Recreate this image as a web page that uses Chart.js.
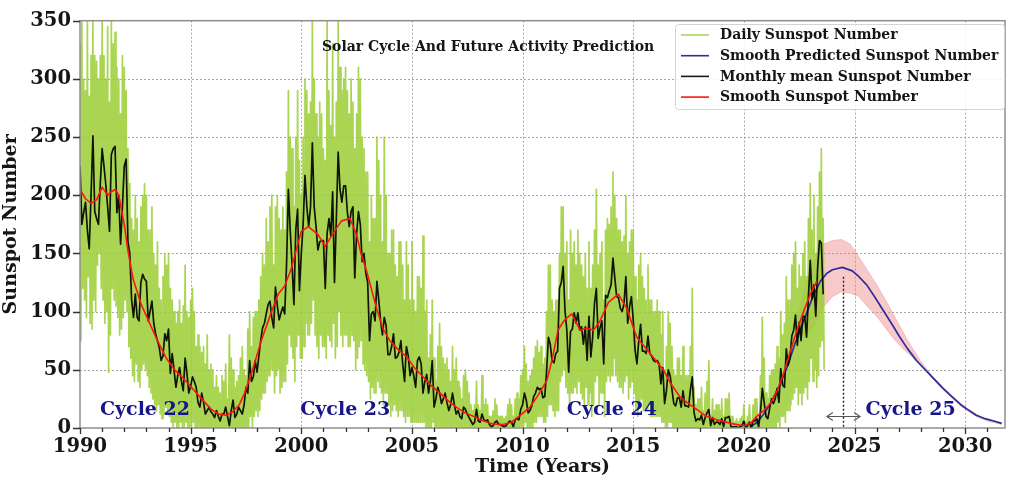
<!DOCTYPE html>
<html>
<head>
<meta charset="utf-8">
<title>Solar Cycle And Future Activity Prediction</title>
<script src="https://cdn.jsdelivr.net/npm/chart.js@4.4.1/dist/chart.umd.min.js"></script>
<style>
  html, body { margin: 0; padding: 0; background: #ffffff; }
  #wrap { width: 1012px; height: 481px; }
</style>
</head>
<body>
<div id="wrap"><canvas id="sunspots" width="1012" height="481"></canvas></div>
<script>
// ---- data -------------------------------------------------------------
const firstYear = 1990;

// Monthly mean sunspot number, one row per year (Jan..Dec)
const monthlyMean = [
  [225, 175, 185, 194, 170, 154, 200, 251, 186, 180, 175, 210], // 1990
  [240, 225, 209, 190, 169, 235, 240, 242, 185, 200, 158, 190], // 1991
  [225, 231, 160, 150, 110, 95, 115, 95, 92, 125, 132, 128],    // 1992
  [126, 92, 100, 109, 90, 81, 75, 69, 58, 62, 81, 75],          // 1993
  [85, 47, 64, 50, 35, 45, 52, 40, 32, 60, 47, 30],             // 1994
  [36, 44, 40, 35, 22, 18, 30, 22, 12, 15, 18, 14],             // 1995
  [12, 9, 15, 10, 6, 12, 12, 18, 10, 2, 15, 24],                // 1996
  [9, 12, 18, 15, 12, 20, 35, 30, 58, 40, 44, 58],              // 1997
  [48, 62, 75, 86, 90, 98, 106, 109, 95, 86, 121, 105],         // 1998
  [93, 99, 104, 98, 140, 205, 170, 140, 106, 170, 188, 118],    // 1999
  [150, 175, 217, 190, 173, 190, 245, 190, 173, 153, 160, 161], // 2000
  [161, 120, 167, 180, 165, 203, 125, 180, 237, 205, 194, 208], // 2001
  [208, 185, 173, 186, 190, 129, 167, 186, 175, 143, 150, 133], // 2002
  [125, 75, 98, 100, 92, 126, 110, 92, 80, 95, 88, 63],         // 2003
  [63, 70, 81, 60, 61, 65, 75, 55, 40, 70, 62, 45],             // 2004
  [52, 45, 35, 58, 61, 55, 30, 40, 46, 30, 40, 58],             // 2005
  [18, 25, 35, 30, 21, 25, 30, 22, 15, 20, 30, 20],             // 2006
  [12, 15, 10, 8, 18, 16, 12, 9, 6, 3, 5, 16],                  // 2007
  [6, 5, 12, 7, 6, 7, 3, 1, 2, 5, 6, 3],                        // 2008
  [3, 2, 1, 2, 4, 6, 5, 1, 7, 8, 7, 16],                        // 2009
  [20, 30, 24, 13, 15, 19, 27, 30, 35, 33, 34, 26],             // 2010
  [27, 48, 78, 72, 58, 56, 64, 66, 120, 125, 139, 101],         // 2011
  [84, 48, 83, 85, 99, 90, 99, 84, 87, 72, 87, 58],             // 2012
  [96, 61, 78, 107, 120, 77, 86, 92, 55, 114, 112, 118],        // 2013
  [123, 146, 129, 113, 112, 103, 100, 107, 130, 90, 104, 113],  // 2014
  [93, 67, 55, 75, 89, 66, 66, 64, 79, 64, 62, 58],             // 2015
  [57, 58, 55, 38, 52, 21, 32, 50, 45, 33, 21, 19],             // 2016
  [26, 26, 18, 32, 19, 19, 18, 33, 44, 13, 6, 8],               // 2017
  [7, 11, 3, 9, 13, 16, 2, 9, 3, 5, 5, 3],                      // 2018
  [8, 1, 9, 9, 10, 1, 1, 1, 1, 0, 1, 2],                        // 2019
  [6, 0, 2, 5, 0, 6, 6, 8, 1, 14, 34, 22],                      // 2020
  [10, 8, 17, 25, 21, 25, 34, 22, 51, 37, 35, 68],              // 2021
  [54, 60, 79, 84, 97, 71, 91, 75, 96, 96, 78, 113],            // 2022
  [144, 111, 123, 96, 138, 161, 159, 115]                       // 2023
];

// Daily sunspot number: highest and lowest daily value in each month
const dailyPeak = [
  [330, 350, 300, 290, 350, 285, 320, 350, 320, 315, 300, 320],
  [350, 320, 300, 345, 280, 350, 330, 340, 310, 300, 270, 320],
  [310, 290, 240, 210, 180, 170, 200, 180, 160, 190, 200, 210],
  [200, 170, 170, 190, 150, 140, 160, 120, 110, 130, 150, 140],
  [150, 120, 110, 100, 90, 100, 110, 90, 105, 140, 100, 95],
  [110, 120, 100, 70, 80, 70, 65, 70, 55, 80, 50, 55],
  [50, 35, 45, 35, 30, 45, 40, 55, 25, 80, 60, 50],
  [35, 40, 45, 60, 70, 50, 45, 85, 100, 70, 95, 100],
  [100, 110, 130, 150, 140, 180, 160, 190, 200, 140, 190, 200],
  [180, 170, 190, 170, 220, 290, 250, 240, 190, 250, 290, 230],
  [200, 250, 300, 290, 270, 280, 350, 300, 270, 250, 280, 270],
  [240, 230, 350, 290, 260, 330, 250, 280, 350, 310, 290, 300],
  [310, 290, 270, 300, 280, 240, 270, 310, 300, 250, 240, 220],
  [220, 160, 200, 180, 180, 250, 230, 200, 160, 250, 200, 150],
  [150, 170, 170, 140, 130, 160, 160, 140, 110, 160, 140, 110],
  [160, 110, 100, 130, 130, 120, 165, 100, 110, 60, 80, 110],
  [60, 40, 70, 90, 70, 60, 55, 60, 50, 40, 70, 50],
  [60, 40, 35, 25, 45, 50, 40, 30, 20, 15, 20, 40],
  [20, 15, 45, 20, 25, 20, 10, 10, 15, 25, 20, 10],
  [10, 10, 8, 10, 20, 25, 20, 10, 25, 30, 25, 45],
  [50, 70, 55, 40, 45, 50, 60, 70, 75, 65, 70, 55],
  [60, 100, 140, 140, 110, 100, 110, 110, 150, 190, 190, 150],
  [160, 110, 170, 150, 160, 140, 170, 150, 140, 130, 150, 120],
  [160, 120, 140, 170, 205, 140, 150, 160, 110, 170, 180, 175],
  [190, 220, 200, 180, 170, 170, 160, 165, 200, 150, 160, 170],
  [170, 130, 110, 140, 150, 130, 120, 110, 140, 110, 110, 100],
  [100, 110, 100, 80, 100, 50, 70, 100, 90, 70, 50, 45],
  [60, 60, 45, 70, 45, 45, 45, 70, 120, 35, 20, 25],
  [25, 35, 15, 30, 40, 58, 10, 25, 15, 20, 20, 15],
  [25, 10, 25, 25, 30, 10, 10, 5, 8, 5, 8, 10],
  [20, 5, 10, 20, 5, 20, 25, 25, 10, 45, 95, 60],
  [30, 25, 45, 50, 50, 55, 70, 60, 100, 80, 90, 130],
  [110, 110, 140, 150, 160, 120, 140, 130, 150, 160, 130, 180],
  [210, 170, 200, 150, 190, 220, 240, 180]
];
const dailyTrough = [
  [75, 120, 110, 95, 130, 90, 85, 110, 100, 140, 150, 120],
  [110, 90, 100, 48, 80, 120, 110, 105, 95, 80, 85, 95],
  [110, 100, 70, 60, 45, 40, 55, 40, 35, 50, 55, 50],
  [45, 35, 30, 25, 20, 15, 20, 12, 8, 12, 18, 15],
  [10, 5, 0, 5, 0, 0, 5, 0, 0, 5, 0, 0],
  [0, 5, 0, 0, 0, 0, 0, 0, 0, 0, 0, 0],
  [0, 0, 0, 0, 0, 0, 0, 0, 0, 0, 0, 0],
  [0, 0, 0, 0, 0, 0, 0, 0, 10, 0, 10, 15],
  [10, 15, 25, 30, 30, 40, 45, 50, 50, 30, 45, 50],
  [30, 35, 40, 40, 55, 80, 70, 60, 40, 70, 80, 60],
  [60, 70, 90, 80, 80, 90, 110, 80, 70, 60, 80, 70],
  [70, 60, 80, 75, 70, 90, 60, 70, 100, 80, 70, 80],
  [80, 70, 70, 80, 75, 50, 60, 70, 75, 55, 50, 45],
  [40, 25, 35, 30, 30, 40, 35, 30, 20, 30, 30, 20],
  [10, 15, 20, 15, 10, 15, 15, 10, 5, 10, 10, 5],
  [5, 5, 5, 5, 5, 5, 5, 0, 0, 0, 0, 5],
  [0, 0, 0, 0, 0, 0, 0, 0, 0, 0, 0, 0],
  [0, 0, 0, 0, 0, 0, 0, 0, 0, 0, 0, 0],
  [0, 0, 0, 0, 0, 0, 0, 0, 0, 0, 0, 0],
  [0, 0, 0, 0, 0, 0, 0, 0, 0, 0, 0, 0],
  [0, 5, 0, 0, 0, 0, 5, 5, 10, 10, 10, 5],
  [5, 10, 20, 20, 15, 10, 15, 15, 40, 45, 50, 35],
  [30, 15, 30, 30, 35, 30, 40, 30, 25, 20, 35, 20],
  [30, 10, 20, 40, 45, 20, 30, 30, 10, 40, 45, 40],
  [45, 60, 45, 40, 35, 35, 30, 40, 45, 25, 35, 40],
  [30, 15, 10, 20, 25, 15, 15, 15, 20, 10, 10, 10],
  [10, 10, 10, 5, 5, 0, 0, 5, 5, 0, 0, 0],
  [0, 0, 0, 0, 0, 0, 0, 0, 0, 0, 0, 0],
  [0, 0, 0, 0, 0, 0, 0, 0, 0, 0, 0, 0],
  [0, 0, 0, 0, 0, 0, 0, 0, 0, 0, 0, 0],
  [0, 0, 0, 0, 0, 0, 0, 0, 0, 0, 0, 0],
  [0, 0, 0, 0, 0, 0, 5, 0, 10, 10, 5, 15],
  [15, 20, 25, 30, 35, 20, 30, 20, 30, 35, 25, 40],
  [60, 40, 50, 35, 45, 70, 75, 50]
];

// 13-month smoothed sunspot number
const smoothYears = [
  1990.0, 1990.25, 1990.5, 1990.75, 1991.0, 1991.25, 1991.4, 1991.6, 1991.75,
  1992.0, 1992.17, 1992.4, 1992.77, 1993.1, 1993.5, 1993.9, 1994.28, 1994.6,
  1995.03, 1995.5, 1995.93, 1996.25, 1996.6, 1996.9, 1997.2, 1997.44, 1997.8,
  1998.19, 1998.6, 1998.95, 1999.25, 1999.55, 1999.8, 2000.0, 2000.32, 2000.77,
  2001.07, 2001.3, 2001.6, 2001.82, 2002.2, 2002.5, 2002.7, 2002.95, 2003.4, 2003.7,
  2004.0, 2004.4, 2004.77, 2005.1, 2005.5, 2005.9, 2006.27, 2006.6,
  2007.0, 2007.4, 2007.78, 2008.1, 2008.53, 2008.9, 2009.13, 2009.5, 2009.9,
  2010.34, 2010.7, 2011.1, 2011.35, 2011.6, 2011.9, 2012.22, 2012.6, 2012.9,
  2013.2, 2013.5, 2013.88, 2014.33, 2014.7, 2015.16, 2015.76, 2016.36, 2016.7,
  2017.1, 2017.5, 2017.87, 2018.3, 2018.78, 2019.4, 2019.98, 2020.3, 2020.58, 2020.9,
  2021.2, 2021.5, 2021.8, 2022.1, 2022.4, 2022.7, 2023.0, 2023.3
];
const smoothValues = [
  205, 197, 193, 196, 207, 200, 203, 205, 200,
  175, 152, 128, 106, 92, 75, 60, 50, 44,
  35, 25, 16, 12, 11, 14, 20, 30, 50,
  75, 97, 115, 122, 137, 155, 169, 173, 166,
  156, 163, 172, 178, 180, 166, 150, 135, 103, 85,
  75, 67, 61, 52, 44, 36, 30, 24,
  18, 13, 10, 7, 4, 3, 3, 5, 11,
  18, 28, 41, 60, 84, 93, 98, 84, 86,
  84, 92, 108, 115, 103, 78, 64, 50, 38,
  27, 21, 16, 10, 7, 4, 2, 4, 10, 15,
  21, 32, 47, 66, 84, 100, 115, 126
];

// Smoothed prediction for cycle 25
const predYears = [
  2020.3, 2020.6, 2020.9, 2021.2, 2021.6, 2021.95, 2022.3, 2022.7, 2023.1, 2023.45,
  2023.75, 2024.0, 2024.45, 2024.9, 2025.2, 2025.55, 2025.9, 2026.3, 2026.7, 2027.05,
  2027.4, 2027.8, 2028.25, 2028.6, 2029.0, 2029.4, 2029.8, 2030.1, 2030.5, 2030.9,
  2031.3, 2031.65
];
const predValues = [
  1, 5, 12, 21, 36, 52, 72, 92, 112, 126,
  133, 136, 138, 135, 130, 123, 113, 101, 89, 78,
  68, 58, 49, 42, 34, 27, 20, 16, 11, 8,
  6, 4
];

// Uncertainty range of the prediction
const bandYears = [
  2022.3, 2022.7, 2023.1, 2023.6, 2024.0, 2024.4, 2024.8, 2025.2, 2025.6, 2026.0, 2026.4,
  2026.8, 2027.2, 2027.6, 2028.0, 2028.5, 2029.0, 2029.5, 2030.0, 2030.5, 2031.0, 2031.65
];
const bandUpper = [88, 115, 140, 158, 161, 162, 158, 147, 135, 123, 110, 96, 82, 69, 57, 45, 35, 26, 18, 12, 7, 4];
const bandLower = [78, 80, 86, 104, 113, 117, 116, 113, 104, 96, 86, 76, 68, 61, 53, 43, 33, 24, 16, 10, 6, 3];

// Predicted maximum of cycle 25 and its spread
const peakYear = 2024.5;
const peakMarkerTop = 130;
const peakSpread = [2023.75, 2025.25];
const peakSpreadLevel = 10.5;

const cycleNames = ['Cycle 22', 'Cycle 23', 'Cycle 24', 'Cycle 25'];
const cycleNameYears = [1990.9, 1999.95, 2012.0, 2025.5];
const cycleNameLevel = 15.5;

const seriesNames = [
  'Daily Sunspot Number',
  'Smooth Predicted Sunspot Number',
  'Monthly mean Sunspot Number',
  'Smooth Sunspot Number'
];
const chartTitle = 'Solar Cycle And Future Activity Prediction';
const xTitle = 'Time (Years)';
const yTitle = 'Sunspot Number';

// ---- series points ----------------------------------------------------
function monthlyPoints(rows) {
  const pts = [];
  rows.forEach((row, i) => row.forEach((v, m) => pts.push({ x: firstYear + i + m / 12, y: v })));
  return pts;
}
function dailyPoints(peaks, troughs) {
  const pts = [];
  peaks.forEach((row, i) => row.forEach((v, m) => {
    pts.push({ x: firstYear + i + m / 12, y: v });
    pts.push({ x: firstYear + i + m / 12 + 1 / 24, y: troughs[i][m] });
  }));
  return pts;
}
function pairPoints(xs, ys) {
  const n = Math.min(xs.length, ys.length);
  const pts = [];
  for (let i = 0; i < n; i++) pts.push({ x: xs[i], y: ys[i] });
  return pts;
}

const COLORS = {
  daily: 'rgba(154,205,50,0.84)',
  pred: '#2d2d9c',
  monthly: 'rgba(0,0,0,0.9)',
  smooth: '#ff1414',
  band: 'rgba(235,120,120,0.40)',
  bandEdge: 'rgba(225,110,110,0.35)',
  cycle: '#16168a',
  grid: 'rgba(150,150,150,0.85)',
  frame: '#8e8e8e',
  text: '#151515'
};
const SERIF = '"DejaVu Serif", "Liberation Serif", serif';

// ---- decorations drawn on the chart canvas ----------------------------
const decor = {
  id: 'decor',
  beforeDatasetsDraw(chart) {
    const { ctx, chartArea: a, scales: { x, y } } = chart;
    ctx.save();
    ctx.strokeStyle = COLORS.grid;
    ctx.lineWidth = 1;
    ctx.setLineDash([2, 2]);
    ctx.beginPath();
    y.ticks.forEach(t => {
      if (t.value <= y.min || t.value >= y.max) return;
      const py = Math.round(y.getPixelForValue(t.value)) + 0.5;
      ctx.moveTo(a.left, py); ctx.lineTo(a.right, py);
    });
    x.ticks.forEach(t => {
      if (t.value <= x.min || t.value >= x.max) return;
      const px = Math.round(x.getPixelForValue(t.value)) + 0.5;
      ctx.moveTo(px, a.top); ctx.lineTo(px, a.bottom);
    });
    ctx.stroke();
    ctx.restore();
  },
  afterDatasetsDraw(chart) {
    const { ctx, chartArea: a, scales: { x, y } } = chart;
    ctx.save();

    // predicted maximum marker
    ctx.strokeStyle = '#222';
    ctx.lineWidth = 1.4;
    ctx.setLineDash([2, 2]);
    const pk = Math.round(x.getPixelForValue(peakYear)) + 0.5;
    ctx.beginPath();
    ctx.moveTo(pk, y.getPixelForValue(peakMarkerTop));
    ctx.lineTo(pk, a.bottom);
    ctx.stroke();
    ctx.setLineDash([]);

    // spread arrow
    const ax0 = x.getPixelForValue(peakSpread[0]);
    const ax1 = x.getPixelForValue(peakSpread[1]);
    const ay = Math.round(y.getPixelForValue(peakSpreadLevel)) + 0.5;
    ctx.strokeStyle = '#555';
    ctx.lineWidth = 1.1;
    ctx.beginPath();
    ctx.moveTo(ax0, ay); ctx.lineTo(ax1, ay);
    ctx.moveTo(ax0 + 6, ay - 4); ctx.lineTo(ax0, ay); ctx.lineTo(ax0 + 6, ay + 4);
    ctx.moveTo(ax1 - 6, ay - 4); ctx.lineTo(ax1, ay); ctx.lineTo(ax1 - 6, ay + 4);
    ctx.stroke();

    // cycle names
    ctx.fillStyle = COLORS.cycle;
    ctx.font = 'bold 19px ' + SERIF;
    ctx.textAlign = 'left';
    ctx.textBaseline = 'middle';
    cycleNames.forEach((name, i) => {
      ctx.fillText(name, x.getPixelForValue(cycleNameYears[i]), y.getPixelForValue(cycleNameLevel));
    });

    // frame
    ctx.strokeStyle = COLORS.frame;
    ctx.lineWidth = 1.5;
    ctx.strokeRect(a.left, a.top, a.right - a.left, a.bottom - a.top);

    // tick marks
    ctx.strokeStyle = '#333';
    ctx.lineWidth = 1.3;
    ctx.beginPath();
    for (let yr = Math.ceil(x.min); yr <= Math.floor(x.max); yr++) {
      const px = Math.round(x.getPixelForValue(yr)) + 0.5;
      const len = yr % 5 === 0 ? 6 : 4;
      ctx.moveTo(px, a.bottom); ctx.lineTo(px, a.bottom + len);
    }
    y.ticks.forEach(t => {
      const py = Math.round(y.getPixelForValue(t.value)) + 0.5;
      ctx.moveTo(a.left - 7, py); ctx.lineTo(a.left, py);
    });
    ctx.stroke();

    // title inside the plot
    ctx.fillStyle = COLORS.text;
    ctx.font = 'bold 14px ' + SERIF;
    ctx.textAlign = 'left';
    ctx.textBaseline = 'middle';
    ctx.fillText(chartTitle, 322, 47);

    // legend
    const lx = 675, ly = 24, lw = 329, lh = 85;
    ctx.fillStyle = 'rgba(255,255,255,0.85)';
    ctx.strokeStyle = '#d4d4d4';
    ctx.lineWidth = 1;
    ctx.beginPath();
    ctx.roundRect(lx + 0.5, ly + 0.5, lw, lh, 3);
    ctx.fill();
    ctx.stroke();
    const entries = seriesNames.map(name => chart.data.datasets.find(d => d.label === name));
    ctx.font = 'bold 14px ' + SERIF;
    entries.forEach((d, i) => {
      const ry = ly + 11 + i * 20.7;
      ctx.strokeStyle = d.borderColor;
      ctx.lineWidth = 1.6;
      ctx.beginPath();
      ctx.moveTo(681, ry); ctx.lineTo(709, ry);
      ctx.stroke();
      ctx.fillStyle = COLORS.text;
      ctx.fillText(d.label, 720, ry + 0.5);
    });

    ctx.restore();
  }
};

// ---- chart ------------------------------------------------------------
const axisFont = { family: SERIF, weight: 'bold', size: 19.5 };
const titleFont = { family: SERIF, weight: 'bold', size: 19 };

new Chart(document.getElementById('sunspots').getContext('2d'), {
  type: 'line',
  data: {
    datasets: [
      { label: seriesNames[3], data: pairPoints(smoothYears, smoothValues),
        borderColor: COLORS.smooth, borderWidth: 1.6, order: 1 },
      { label: seriesNames[2], data: monthlyPoints(monthlyMean),
        borderColor: COLORS.monthly, borderWidth: 1.7, order: 2 },
      { label: seriesNames[1], data: pairPoints(predYears, predValues),
        borderColor: COLORS.pred, borderWidth: 1.7, order: 3 },
      { label: seriesNames[0], data: dailyPoints(dailyPeak, dailyTrough),
        borderColor: COLORS.daily, borderWidth: 1.7, order: 6 },
      { label: 'band-upper', data: pairPoints(bandYears, bandUpper),
        borderColor: COLORS.bandEdge, borderWidth: 1, fill: false, order: 8 },
      { label: 'band-lower', data: pairPoints(bandYears, bandLower),
        borderColor: COLORS.bandEdge, borderWidth: 1, fill: '-1',
        backgroundColor: COLORS.band, order: 7 }
    ]
  },
  options: {
    responsive: false,
    devicePixelRatio: 1,
    animation: false,
    events: [],
    elements: { point: { radius: 0 }, line: { tension: 0, borderCapStyle: 'butt', borderJoinStyle: 'round' } },
    layout: { padding: { top: 17, right: 7, left: 0, bottom: 0 } },
    plugins: { legend: { display: false }, tooltip: { enabled: false }, title: { display: false } },
    scales: {
      x: {
        type: 'linear', min: 1990, max: 2031.8,
        afterFit(s) { s.height = 53; },
        grid: { display: false, drawTicks: false },
        border: { display: false },
        ticks: { stepSize: 5, includeBounds: false, padding: 7, color: COLORS.text, font: axisFont,
                  maxRotation: 0, callback: v => String(v) },
        title: { display: true, text: xTitle, color: COLORS.text, font: titleFont, padding: { top: 0, bottom: 3 } }
      },
      y: {
        type: 'linear', min: 0, max: 350,
        afterFit(s) { s.width = 80; },
        grid: { display: false, drawTicks: false },
        border: { display: false },
        ticks: { stepSize: 50, padding: 9, color: COLORS.text, font: axisFont, callback: v => String(v) },
        title: { display: true, text: yTitle, color: COLORS.text, font: titleFont, padding: { top: 0, bottom: 5 } }
      }
    }
  },
  plugins: [decor]
});
</script>
</body>
</html>
